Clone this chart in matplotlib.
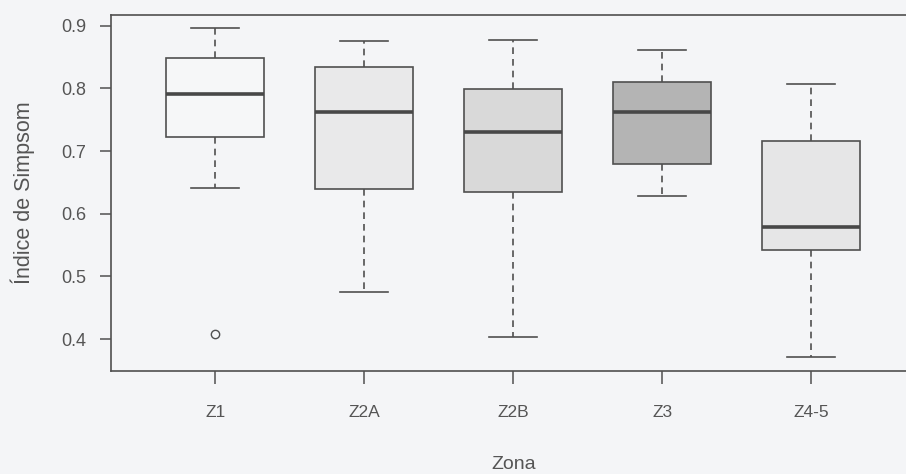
import matplotlib
matplotlib.use("Agg")
import matplotlib.pyplot as plt

# Datos (indice de Simpson por zona)
zonas = ["Z1", "Z2A", "Z2B", "Z3", "Z4-5"]
bigote_inf = [0.641, 0.476, 0.403, 0.628, 0.371]
q1 = [0.723, 0.640, 0.635, 0.680, 0.542]
mediana = [0.791, 0.763, 0.730, 0.762, 0.579]
q3 = [0.848, 0.834, 0.799, 0.810, 0.716]
bigote_sup = [0.896, 0.875, 0.877, 0.861, 0.807]
atipicos = [[0.409], [], [], [], []]
rellenos = ["#f6f7f8", "#e9e9ea", "#d9d9d9", "#b4b4b4", "#e6e6e7"]

fondo = "#f4f5f7"
linea = "#505050"
texto = "#555555"

plt.rcParams['font.family'] = ['Liberation Sans', 'DejaVu Sans']

fig = plt.figure(figsize=(9.06, 4.74), dpi=100, facecolor=fondo)
ax = fig.add_axes([111 / 906, 103.5 / 474, 804.6 / 906, 355.5 / 474])
ax.set_facecolor(fondo)

stats = []
for i in range(len(zonas)):
    stats.append(dict(whislo=bigote_inf[i], q1=q1[i], med=mediana[i],
                      q3=q3[i], whishi=bigote_sup[i], fliers=atipicos[i],
                      label=zonas[i]))

pos = list(range(1, len(zonas) + 1))
res = ax.bxp(stats, positions=pos, widths=0.66, capwidths=0.32,
             patch_artist=True, showfliers=True,
             boxprops=dict(edgecolor=linea, linewidth=1.2),
             whiskerprops=dict(color=linea, linewidth=1.2, linestyle=(0, (4, 3))),
             capprops=dict(color=linea, linewidth=1.2),
             medianprops=dict(color="#484848", linewidth=2.6),
             flierprops=dict(marker="o", markersize=6, markerfacecolor="none",
                             markeredgecolor=linea, markeredgewidth=1.0))
for caja, c in zip(res["boxes"], rellenos):
    caja.set_facecolor(c)

lo = min(bigote_inf + [a for f in atipicos for a in f])
hi = max(bigote_sup)
ext = (hi - lo) * 0.04
ax.set_ylim(lo - ext, hi + ext)
ax.set_xlim(0.3, len(zonas) + 0.7)

ax.set_yticks([0.4, 0.5, 0.6, 0.7, 0.8, 0.9])
ax.set_yticklabels(["0.4", "0.5", "0.6", "0.7", "0.8", "0.9"])
ax.tick_params(axis="y", length=8, width=1.1, color=linea, pad=10,
               labelsize=13, labelcolor=texto)
ax.tick_params(axis="x", length=9, width=1.1, color=linea, pad=16,
               labelsize=12.5, labelcolor=texto)

for s in ax.spines.values():
    s.set_color(linea)
    s.set_linewidth(1.2)

ax.set_xlabel("Zona", fontsize=14, color=texto)
ax.xaxis.set_label_coords(0.5, -0.24)
ax.set_ylabel("Índice de Simpsom", fontsize=15.5, color=texto)
ax.yaxis.set_label_coords(-0.095, 0.5)

fig.savefig("out.png", dpi=100, facecolor=fondo)
